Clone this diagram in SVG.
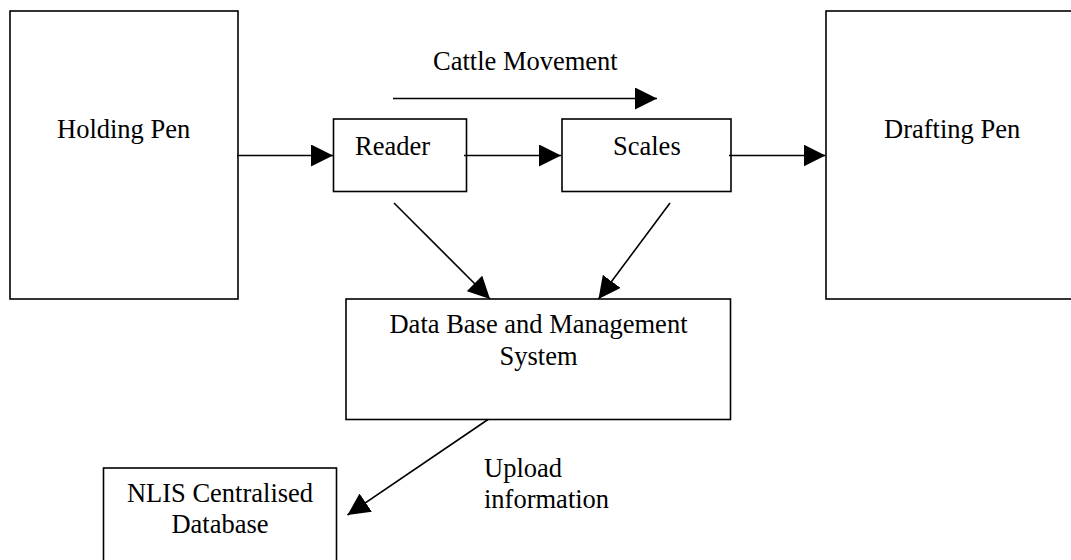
<svg xmlns="http://www.w3.org/2000/svg" width="1071" height="560" viewBox="0 0 1071 560">
<style>
.box{fill:#fff;stroke:#000;stroke-width:1.6}
.lbl{font-family:"Liberation Serif","Times New Roman",serif;font-size:26.5px;fill:#000}
.c{text-anchor:middle}
.conn line{stroke:#000;stroke-width:1.6}
</style>
<defs>
<marker id="ah" markerUnits="userSpaceOnUse" markerWidth="22" markerHeight="22" viewBox="0 0 20 20" refX="20" refY="10" orient="auto">
<path d="M0,0 L20,10 L0,20 Z" fill="#000"/>
</marker>
</defs>
<rect width="1071" height="560" fill="#fff"/>
<g id="holding-pen"><rect class="box" x="10" y="11" width="228" height="288"/><text class="lbl" x="57" y="138">Holding Pen</text></g>
<g id="reader"><rect class="box" x="333.5" y="119" width="133" height="72.5"/><text class="lbl" x="355" y="155">Reader</text></g>
<g id="scales"><rect class="box" x="562" y="119" width="169" height="72.5"/><text class="lbl" x="613" y="155">Scales</text></g>
<g id="drafting-pen"><rect class="box" x="826" y="11" width="260" height="288"/><text class="lbl" x="884" y="138">Drafting Pen</text></g>
<g id="database"><rect class="box" x="346" y="299" width="384.5" height="120.5"/><text class="lbl c" x="538.5" y="333">Data Base and Management</text><text class="lbl c" x="538.5" y="365">System</text></g>
<g id="nlis"><rect class="box" x="103.5" y="468" width="233" height="110"/><text class="lbl c" x="220" y="502">NLIS Centralised</text><text class="lbl c" x="220" y="533">Database</text></g>
<g id="labels"><text class="lbl" x="433" y="70">Cattle Movement</text><text class="lbl" x="484" y="477">Upload</text><text class="lbl" x="484" y="508">information</text></g>
<g id="connectors" class="conn">
<line x1="393" y1="98.5" x2="657" y2="98.5" marker-end="url(#ah)"/>
<line x1="237" y1="155.5" x2="333" y2="155.5" marker-end="url(#ah)"/>
<line x1="464" y1="155.5" x2="561" y2="155.5" marker-end="url(#ah)"/>
<line x1="729" y1="155.5" x2="825.5" y2="155.5" marker-end="url(#ah)"/>
<line x1="394" y1="203" x2="490" y2="299" marker-end="url(#ah)"/>
<line x1="670" y1="203" x2="598.5" y2="299" marker-end="url(#ah)"/>
<line x1="488" y1="419.5" x2="347.5" y2="515" marker-end="url(#ah)"/>
</g>
</svg>
